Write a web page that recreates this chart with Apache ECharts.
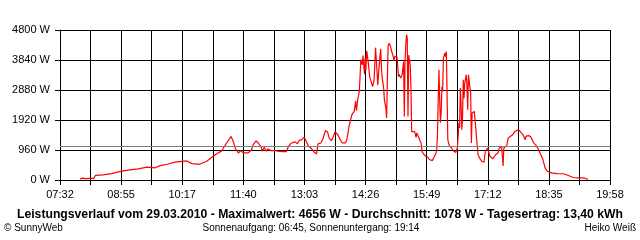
<!DOCTYPE html>
<html><head><meta charset="utf-8">
<script src="https://cdn.jsdelivr.net/npm/echarts@6/dist/echarts.min.js"></script>
<style>html,body{margin:0;padding:0;background:#fff}#c{width:640px;height:240px}</style>
</head><body><div id="c"></div>
<script>
// Time of each reading (HH:MM) and power in watts
const times = ['07:59','08:02','08:07','08:13','08:18','08:20','08:30','08:42','08:51','09:04','09:18','09:30','09:41','09:48','09:58','10:08','10:24','10:31','10:38','10:42','10:51','10:58','11:04','11:12','11:14','11:18','11:24','11:27','11:30','11:34','11:37','11:41','11:47','11:52','11:54','11:58','12:01','12:05','12:06','12:09','12:12','12:14','12:18','12:24','12:28','12:33','12:39','12:42','12:46','12:51','12:54','12:56','13:00','13:03','13:05','13:09','13:13','13:17','13:20','13:22','13:26','13:29','13:32','13:35','13:37','13:40','13:42','13:45','13:49','13:52','13:55','13:59','14:01','14:03','14:04','14:07','14:08','14:11','14:13','14:14','14:16','14:18','14:19','14:20','14:22','14:23','14:25','14:26','14:27','14:28','14:30','14:32','14:34','14:36','14:38','14:39','14:40','14:42','14:43','14:45','14:47','14:48','14:49','14:51','14:52','14:54','14:55','14:56','14:57','14:58','15:00','15:02','15:04','15:05','15:06','15:09','15:10','15:11','15:12','15:14','15:16','15:18','15:19','15:20','15:21','15:22','15:23','15:24','15:25','15:27','15:28','15:29','15:31','15:33','15:35','15:36','15:38','15:40','15:42','15:43','15:45','15:48','15:51','15:53','15:55','15:57','16:00','16:02','16:03','16:04','16:05','16:06','16:07','16:08','16:09','16:10','16:11','16:12','16:14','16:15','16:16','16:17','16:18','16:20','16:23','16:26','16:29','16:31','16:32','16:33','16:34','16:35','16:36','16:37','16:38','16:39','16:40','16:41','16:43','16:44','16:45','16:46','16:48','16:49','16:50','16:51','16:53','16:54','16:55','16:56','16:57','16:59','17:01','17:04','17:07','17:09','17:12','17:13','17:15','17:19','17:21','17:23','17:26','17:28','17:31','17:32','17:33','17:34','17:36','17:38','17:40','17:42','17:46','17:49','17:52','17:55','17:57','18:00','18:01','18:03','18:04','18:07','18:10','18:12','18:14','18:18','18:21','18:24','18:27','18:30','18:33','18:39','18:46','18:54','18:58','19:04','19:08','19:15','19:22','19:26','19:28'];
const watts = [30,60,45,55,55,145,165,205,260,315,355,410,390,460,505,570,610,525,505,510,600,725,835,940,1045,1185,1395,1235,1000,865,940,865,865,975,1130,1250,1185,1045,920,1045,920,995,940,940,920,910,910,1080,1185,1220,1155,1260,1290,1365,1290,1080,1005,885,835,1155,1185,1345,1580,1535,1345,1260,1345,1535,1450,1290,1185,1185,1290,1555,1715,2005,2090,2195,2535,2215,2600,2830,3310,3845,3685,3980,3385,3915,3525,4130,3790,3310,3150,2990,3205,3685,4235,3470,3045,3685,4195,3580,3260,2940,2565,2300,1985,1930,4265,4375,4300,4110,3950,3810,3950,3950,3685,3310,3385,3260,3365,3790,2035,3790,4320,4656,4535,2035,4000,3685,2940,1550,1505,1550,1365,1505,1400,1345,1155,920,835,760,725,655,600,620,760,865,975,1450,2565,3525,2565,1835,2150,2980,2830,3900,4055,3950,4110,2780,1290,1100,1025,920,885,1025,1395,1825,1665,2940,2410,1610,2035,3205,2620,3100,3365,3045,2250,3365,3310,2780,1185,2145,2090,2195,1930,1875,1345,815,710,600,570,920,1025,975,760,675,630,815,865,1025,1060,1060,450,1025,1060,1100,1345,1395,1450,1555,1590,1590,1525,1450,1420,1290,1395,1420,1395,1315,1205,1100,975,815,655,390,280,230,205,200,175,120,80,70,70,40,15];
const xTickLabels = ['07:32','08:55','10:17','11:40','13:03','14:26','15:49','17:12','18:35','19:58'];
const yMax = 4800;
const yStep = 960;
const avgWatts = 1078;
const titleText = 'Leistungsverlauf vom 29.03.2010 - Maximalwert: 4656 W - Durchschnitt: 1078 W - Tagesertrag: 13,40 kWh';
const footLeft = '\u00A9 SunnyWeb';
const footCenter = 'Sonnenaufgang: 06:45, Sonnenuntergang: 19:14';
const footRight = 'Heiko Wei\u00DF';

function toMin(s){ const p = s.split(':').map(Number); return p[0]*60 + p[1]; }
const startMin = toMin(xTickLabels[0]);
const endMin = toMin(xTickLabels[xTickLabels.length-1]);
const nDiv = (xTickLabels.length-1)*2;
const stepMin = (endMin - startMin)/nDiv;
const seriesData = times.map((t,i) => [(toMin(t)-startMin)/stepMin, watts[i]]);

const FONT = '"Liberation Sans", Arial, sans-serif';
const chart = echarts.init(document.getElementById('c'), null, {renderer:'canvas'});
chart.setOption({
  animation: false,
  backgroundColor: '#fff',
  grid: {left: 60, right: 30, top: 30, bottom: 60, containLabel: false},
  xAxis: {
    type: 'value', min: 0, max: nDiv, interval: 1,
    axisLine: {show: true, lineStyle: {color: '#000', width: 1}},
    axisTick: {show: true, length: 5, lineStyle: {color: '#000', width: 1}},
    axisLabel: {
      color: '#000', fontSize: 11, fontFamily: FONT, margin: 9,
      formatter: v => { const k = Math.round(v); return k % 2 === 0 ? xTickLabels[k/2] : ''; }
    },
    splitLine: {show: true, lineStyle: {color: '#000', width: 1}}
  },
  yAxis: {
    type: 'value', min: 0, max: yMax, interval: yStep,
    axisLine: {show: true, lineStyle: {color: '#000', width: 1}},
    axisTick: {show: true, length: 5, lineStyle: {color: '#000', width: 1}},
    axisLabel: {color: '#000', fontSize: 11, fontFamily: FONT, margin: 10, formatter: v => String(Math.round(v)) + ' W'},
    splitLine: {show: true, lineStyle: {color: '#000', width: 1}}
  },
  series: [
    {
      type: 'line', data: [], z: 1, silent: true,
      markLine: {
        silent: true, symbol: 'none', animation: false,
        label: {show: false},
        lineStyle: {color: '#808080', width: 1, type: 'solid'},
        data: [{yAxis: avgWatts}]
      }
    },
    {
      type: 'line', data: seriesData, z: 3, showSymbol: false, symbol: 'none',
      lineStyle: {color: '#ff0000', width: 1.2}, itemStyle: {color: '#ff0000'}
    }
  ],
  graphic: [
    {type: 'text', x: 320, y: 215, style: {text: titleText, font: 'bold 12.2px ' + FONT, fill: '#000', textAlign: 'center', textVerticalAlign: 'middle', align: 'center', verticalAlign: 'middle'}},
    {type: 'text', x: 4, y: 228, style: {text: footLeft, font: '10px ' + FONT, fill: '#000', textAlign: 'left', textVerticalAlign: 'middle', align: 'left', verticalAlign: 'middle'}},
    {type: 'text', x: 311, y: 228, style: {text: footCenter, font: '10px ' + FONT, fill: '#000', textAlign: 'center', textVerticalAlign: 'middle', align: 'center', verticalAlign: 'middle'}},
    {type: 'text', x: 636, y: 228, style: {text: footRight, font: '10px ' + FONT, fill: '#000', textAlign: 'right', textVerticalAlign: 'middle', align: 'right', verticalAlign: 'middle'}}
  ]
});
</script>
</body></html>
